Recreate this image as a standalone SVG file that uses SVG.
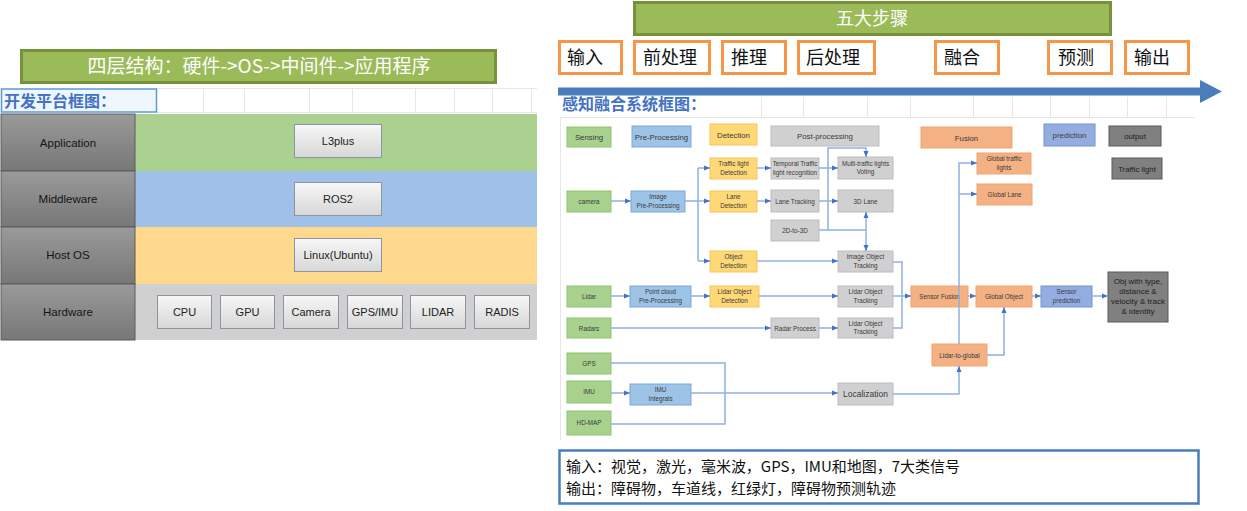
<svg xmlns="http://www.w3.org/2000/svg" width="1247" height="511" viewBox="0 0 1247 511">
<defs>
<style>
.cjk{font-family:"Noto Sans CJK SC","Liberation Sans",sans-serif}
.lat{font-family:"Liberation Sans","Noto Sans CJK SC",sans-serif}
.grid{stroke:#e6e6e6;stroke-width:1;fill:none}
.lbl rect{fill:url(#lcg);stroke:#5a5a5a;stroke-width:1}
.lbl text{font-family:"Liberation Sans",sans-serif;font-size:11.5px;fill:#151515;text-anchor:middle}
.hb rect{fill:url(#hbg);stroke:#8a96a3;stroke-width:1}
.hb text{font-family:"Liberation Sans",sans-serif;font-size:11px;fill:#222;text-anchor:middle}
.ob rect{fill:#fff;stroke:#f79646;stroke-width:3}
.ob text{font-family:"Noto Sans CJK SC",sans-serif;font-size:18px;fill:#111}
.n text{font-family:"Liberation Sans",sans-serif;font-size:6.3px;fill:#3a3a3a;text-anchor:middle}
.n.h text{font-size:7.8px}
.g rect{fill:#a9d18e;stroke:#8cc46c;stroke-width:1}
.b rect{fill:#9dc3e6;stroke:#7aa6db;stroke-width:1}
.y rect{fill:#ffd878;stroke:#f7c55a;stroke-width:1}
.gr rect{fill:#d0d0d0;stroke:#bdbdbd;stroke-width:1}
.s rect{fill:#f4b183;stroke:#f3a46f;stroke-width:1}
.p rect{fill:#94ade0;stroke:#7592d3;stroke-width:1}
.d rect{fill:#808080;stroke:#5a5a5a;stroke-width:1}
.d text{fill:#1e1e1e}
#conn path{fill:none;stroke:#8fb0e3;stroke-width:1.5}
#conn path.a{marker-end:url(#ah)}
</style>
<linearGradient id="lcg" x1="0" y1="0" x2="0" y2="1">
<stop offset="0" stop-color="#9a9a9a"/><stop offset="1" stop-color="#777"/>
</linearGradient>
<linearGradient id="hbg" x1="0" y1="0" x2="0" y2="1">
<stop offset="0" stop-color="#f7f7f7"/><stop offset="1" stop-color="#d7d7d7"/>
</linearGradient>
<marker id="ah" viewBox="0 0 6 6" refX="6" refY="3" markerWidth="6" markerHeight="6" markerUnits="userSpaceOnUse" orient="auto">
<path d="M0,0.5 L6,3 L0,5.5z" fill="#4472c4"/>
</marker>
</defs>
<rect width="1247" height="511" fill="#fff"/>

<!-- LEFT PANEL -->
<g id="left-title">
<rect x="21.5" y="50.5" width="474" height="32" fill="#9bbb59" stroke="#76923c" stroke-width="3"/>
<text x="259" y="73" class="cjk" font-size="19" fill="#fff" text-anchor="middle">四层结构：硬件-&gt;OS-&gt;中间件-&gt;应用程序</text>
</g>
<g id="left-grid" class="grid">
<path d="M157,88.5 H537 M157,112.5 H537 M203.5,88 V113 M244.5,88 V113 M309.5,88 V113 M352.5,88 V113 M415.5,88 V113 M454.5,88 V113 M492.5,88 V113 M531.5,88 V113"/>
</g>
<g id="left-label">
<rect x="1.5" y="89" width="155" height="23" fill="#eef6fe" stroke="#5b9bd5" stroke-width="1.5"/>
<text x="4" y="107" class="cjk" font-size="16" font-weight="bold" fill="#4472c4">开发平台框图：</text>
</g>
<g id="layer-bands">
<rect x="135" y="114" width="402" height="57" fill="#aad18f"/>
<rect x="135" y="171" width="402" height="56" fill="#9fc1e7"/>
<rect x="135" y="227" width="402" height="57" fill="#fed88c"/>
<rect x="135" y="284" width="402" height="56" fill="#d0d0d0"/>
</g>
<g id="row-application" class="lbl"><rect x="1" y="114" width="134" height="57"/><text x="68" y="147">Application</text></g>
<g id="row-middleware" class="lbl"><rect x="1" y="171" width="134" height="56"/><text x="68" y="203">Middleware</text></g>
<g id="row-hostos" class="lbl"><rect x="1" y="227" width="134" height="57"/><text x="68" y="259">Host OS</text></g>
<g id="row-hardware" class="lbl"><rect x="1" y="284" width="134" height="56"/><text x="68" y="316">Hardware</text></g>
<g id="box-l3plus" class="hb"><rect x="294.5" y="124.5" width="87" height="33"/><text x="338" y="145">L3plus</text></g>
<g id="box-ros2" class="hb"><rect x="294.5" y="182.5" width="87" height="33"/><text x="338" y="203">ROS2</text></g>
<g id="box-linux" class="hb"><rect x="294.5" y="238.5" width="87" height="33"/><text x="338" y="259">Linux(Ubuntu)</text></g>
<g id="box-cpu" class="hb"><rect x="157.5" y="295.5" width="54" height="33"/><text x="184.5" y="316">CPU</text></g>
<g id="box-gpu" class="hb"><rect x="220.5" y="295.5" width="54" height="33"/><text x="247.5" y="316">GPU</text></g>
<g id="box-camera" class="hb"><rect x="283.5" y="295.5" width="55" height="33"/><text x="311" y="316">Camera</text></g>
<g id="box-gpsimu" class="hb"><rect x="347.5" y="295.5" width="55" height="33"/><text x="375" y="316">GPS/IMU</text></g>
<g id="box-lidar" class="hb"><rect x="410.5" y="295.5" width="55" height="33"/><text x="438" y="316">LIDAR</text></g>
<g id="box-radis" class="hb"><rect x="474.5" y="295.5" width="55" height="33"/><text x="502" y="316">RADIS</text></g>

<!-- RIGHT HEADER -->
<g id="steps-title">
<rect x="634.5" y="2.5" width="476" height="32" fill="#9bbb59" stroke="#76923c" stroke-width="3"/>
<text x="872" y="25" class="cjk" font-size="18" fill="#fff" text-anchor="middle">五大步骤</text>
</g>
<g id="step-input" class="ob"><rect x="559.5" y="41.5" width="62" height="32"/><text x="567" y="64">输入</text></g>
<g id="step-pre" class="ob"><rect x="634.5" y="41.5" width="75" height="32"/><text x="643" y="64">前处理</text></g>
<g id="step-infer" class="ob"><rect x="722.5" y="41.5" width="63" height="32"/><text x="731" y="64">推理</text></g>
<g id="step-post" class="ob"><rect x="798.5" y="41.5" width="76" height="32"/><text x="806" y="64">后处理</text></g>
<g id="step-fusion" class="ob"><rect x="935.5" y="41.5" width="63" height="32"/><text x="944" y="64">融合</text></g>
<g id="step-predict" class="ob"><rect x="1048.5" y="41.5" width="63" height="32"/><text x="1058" y="64">预测</text></g>
<g id="step-output" class="ob"><rect x="1125.5" y="41.5" width="63" height="32"/><text x="1134" y="64">输出</text></g>
<g id="timeline-arrow">
<path d="M558,87.5 H1200 V80 L1222,91.5 L1200,103 V95.5 H558z" fill="#4a7ebb"/>
</g>
<g id="right-grid" class="grid">
<path d="M560,117.5 H1195 M761.5,97 V117 M803.5,97 V117 M867.5,97 V117 M910.5,97 V117 M973.5,97 V117 M1012.5,97 V117 M1050.5,97 V117 M1089.5,97 V117 M1127.5,97 V117 M1166.5,97 V117 M560.5,117 V440"/>
</g>
<text id="right-label" x="562" y="110" class="cjk" font-size="16" font-weight="bold" fill="#4472c4">感知融合系统框图：</text>

<!-- FUSION DIAGRAM NODES -->
<g id="n-sensing" class="n h g"><rect x="567" y="127" width="44" height="20"/><text x="589" y="140">Sensing</text></g>
<g id="n-preproc-h" class="n h b"><rect x="632" y="126" width="59" height="21"/><text x="661.5" y="139.5">Pre-Processing</text></g>
<g id="n-detect-h" class="n h y"><rect x="710" y="124" width="47" height="21"/><text x="733.5" y="137.5">Detection</text></g>
<g id="n-post-h" class="n h gr"><rect x="771" y="126" width="108" height="20"/><text x="825" y="139">Post-processing</text></g>
<g id="n-fusion-h" class="n h s"><rect x="921" y="127" width="91" height="21"/><text x="966.5" y="140.5">Fusion</text></g>
<g id="n-pred-h" class="n h p"><rect x="1044" y="124" width="51" height="22"/><text x="1069.5" y="138">prediction</text></g>
<g id="n-output-h" class="n h d"><rect x="1109" y="126" width="52" height="20"/><text x="1135" y="139">output</text></g>
<g id="n-tl-out" class="n h d"><rect x="1112" y="158" width="50" height="21"/><text x="1137" y="171.5">Traffic light</text></g>

<g id="n-camera" class="n g"><rect x="567" y="191" width="44" height="21"/><text x="589" y="204">camera</text></g>
<g id="n-imgpre" class="n b"><rect x="631" y="191" width="54" height="21"/><text x="658" y="199">Image</text><text x="658" y="207.5">Pre-Processing</text></g>
<g id="n-tldet" class="n y"><rect x="710" y="158" width="47" height="21"/><text x="733.5" y="166">Traffic light</text><text x="733.5" y="174.5">Detection</text></g>
<g id="n-lanedet" class="n y"><rect x="710" y="191" width="47" height="21"/><text x="733.5" y="199">Lane</text><text x="733.5" y="207.5">Detection</text></g>
<g id="n-objdet" class="n y"><rect x="710" y="251" width="47" height="21"/><text x="733.5" y="259">Object</text><text x="733.5" y="267.5">Detection</text></g>
<g id="n-temporal" class="n gr"><rect x="771" y="158" width="48" height="21"/><text x="795" y="166">Temporal Traffic</text><text x="795" y="174.5">light recognition</text></g>
<g id="n-lanetrk" class="n gr"><rect x="771" y="190" width="48" height="22"/><text x="795" y="203.5">Lane Tracking</text></g>
<g id="n-2d3d" class="n gr"><rect x="771" y="220" width="48" height="21"/><text x="795" y="233">2D-to-3D</text></g>
<g id="n-multi" class="n gr"><rect x="838" y="157" width="55" height="22"/><text x="865.5" y="165.5">Multi-traffic lights</text><text x="865.5" y="174">Voting</text></g>
<g id="n-3dlane" class="n gr"><rect x="838" y="190" width="55" height="22"/><text x="865.5" y="203.5">3D Lane</text></g>
<g id="n-iot" class="n gr"><rect x="838" y="251" width="55" height="21"/><text x="865.5" y="259">Image Object</text><text x="865.5" y="267.5">Tracking</text></g>

<g id="n-lidar" class="n g"><rect x="567" y="286" width="44" height="21"/><text x="589" y="299">Lidar</text></g>
<g id="n-pcpre" class="n b"><rect x="630" y="286" width="61" height="21"/><text x="660.5" y="294">Point cloud</text><text x="660.5" y="302.5">Pre-Processing</text></g>
<g id="n-lodet" class="n y"><rect x="710" y="286" width="49" height="21"/><text x="734.5" y="294">Lidar Object</text><text x="734.5" y="302.5">Detection</text></g>
<g id="n-lot1" class="n gr"><rect x="838" y="286" width="55" height="21"/><text x="865.5" y="294">Lidar Object</text><text x="865.5" y="302.5">Tracking</text></g>
<g id="n-radars" class="n g"><rect x="567" y="318" width="44" height="20"/><text x="589" y="330.5">Radars</text></g>
<g id="n-radarproc" class="n gr"><rect x="771" y="318" width="48" height="20"/><text x="795" y="330.5">Radar Process</text></g>
<g id="n-lot2" class="n gr"><rect x="838" y="318" width="55" height="20"/><text x="865.5" y="325.5">Lidar Object</text><text x="865.5" y="334">Tracking</text></g>
<g id="n-gps" class="n g"><rect x="567" y="353" width="44" height="21"/><text x="589" y="366">GPS</text></g>
<g id="n-imu" class="n g"><rect x="567" y="381" width="44" height="22"/><text x="589" y="394">IMU</text></g>
<g id="n-hdmap" class="n g"><rect x="567" y="411" width="44" height="24"/><text x="589" y="425">HD-MAP</text></g>
<g id="n-imuint" class="n b"><rect x="630" y="384" width="61" height="21"/><text x="660.5" y="392">IMU</text><text x="660.5" y="400.5">Integrals</text></g>
<g id="n-local" class="n gr"><rect x="838" y="383" width="55" height="22"/><text x="865.5" y="397" style="font-size:8.5px">Localization</text></g>

<g id="n-sf" class="n s"><rect x="911" y="286" width="57" height="21"/><text x="939.5" y="299">Sensor Fusion</text></g>
<g id="n-go" class="n s"><rect x="976" y="286" width="56" height="21"/><text x="1004" y="299">Global Object</text></g>
<g id="n-sp" class="n p"><rect x="1041" y="286" width="51" height="21"/><text x="1066.5" y="294">Sensor</text><text x="1066.5" y="302.5">prediction</text></g>
<g id="n-obj" class="n d"><rect x="1108" y="272" width="60" height="50"/>
<text x="1138" y="284" style="font-size:8px">Obj with type,</text>
<text x="1138" y="294" style="font-size:8px">distance &amp;</text>
<text x="1138" y="304" style="font-size:8px">velocity &amp; track</text>
<text x="1138" y="314" style="font-size:8px">&amp; identity</text></g>
<g id="n-l2g" class="n s"><rect x="932" y="344" width="55" height="22"/><text x="959.5" y="357.5">Lidar-to-global</text></g>
<g id="n-gtl" class="n s"><rect x="977" y="153" width="54" height="21"/><text x="1004" y="161">Global traffic</text><text x="1004" y="169.5">lights</text></g>
<g id="n-gl" class="n s"><rect x="977" y="184" width="55" height="21"/><text x="1004.5" y="197">Global Lane</text></g>

<!-- CONNECTORS -->
<g id="conn">
<path class="a" d="M611,201 H631"/>
<path d="M685,201 H698 M698,168 V261"/>
<path class="a" d="M698,168 H710"/>
<path class="a" d="M698,201 H710"/>
<path class="a" d="M698,261 H710"/>
<path class="a" d="M757,168 H771"/>
<path class="a" d="M819,168 H838"/>
<path class="a" d="M757,201 H771"/>
<path class="a" d="M819,201 H838"/>
<path class="a" d="M757,261 H838"/>
<path d="M819,230 H866"/>
<path class="a" d="M828,230 V148 H866 V157"/>
<path class="a" d="M866,230 V212"/>
<path class="a" d="M866,230 V251"/>
<path class="a" d="M611,296 H630"/>
<path class="a" d="M691,296 H710"/>
<path class="a" d="M759,296 H838"/>
<path class="a" d="M611,328 H771"/>
<path class="a" d="M819,328 H838"/>
<path d="M611,363 H725 V424 H611"/>
<path class="a" d="M611,393 H630"/>
<path class="a" d="M691,393 H838"/>
<path d="M893,262 H902 V328 H893"/>
<path class="a" d="M893,296 H911"/>
<path class="a" d="M968,296 H976"/>
<path class="a" d="M1032,296 H1041"/>
<path class="a" d="M1092,296 H1108"/>
<path class="a" d="M893,394 H959 V366"/>
<path class="a" d="M987,355 H1004 V307"/>
<path class="a" d="M959,344 V163 H977"/>
<path class="a" d="M959,194 H977"/>
</g>

<!-- BOTTOM NOTE -->
<g id="note">
<rect x="559.5" y="450.5" width="639" height="53" fill="#fff" stroke="#4a7ebb" stroke-width="2.5"/>
<text x="566" y="472" class="cjk" font-size="15" fill="#111" textLength="394">输入：视觉，激光，毫米波，GPS，IMU和地图，7大类信号</text>
<text x="566" y="494" class="cjk" font-size="15" fill="#111">输出：障碍物，车道线，红绿灯，障碍物预测轨迹</text>
</g>
</svg>
